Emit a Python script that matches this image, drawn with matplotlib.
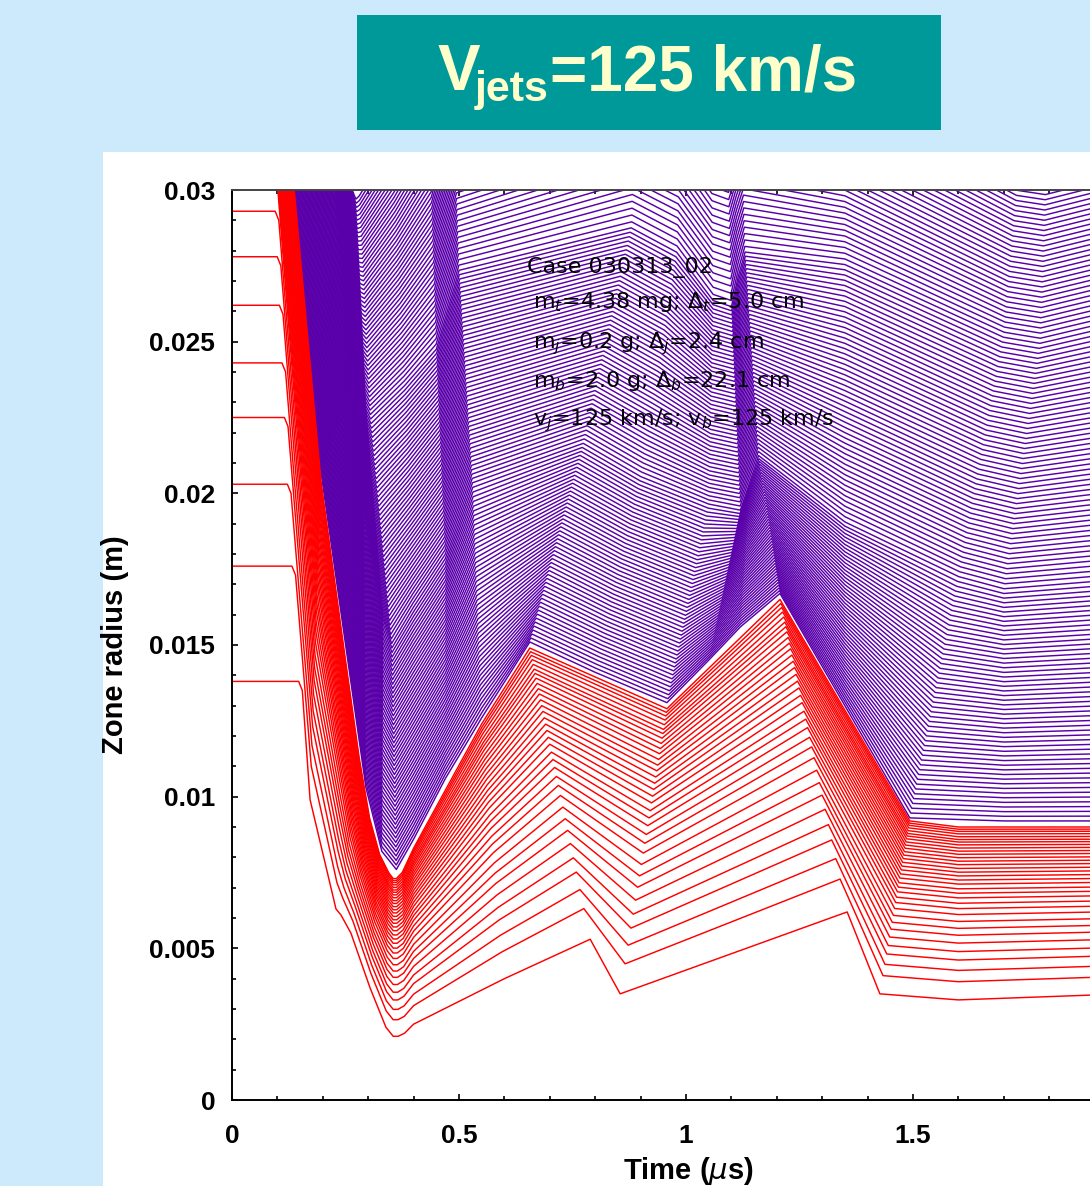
import numpy as np
import matplotlib
matplotlib.use('Agg')
import matplotlib.pyplot as plt
from matplotlib.patches import Rectangle
from matplotlib.ticker import MultipleLocator

# ---------------- text / axes data ----------------
TITLE_MAIN = "V"
TITLE_SUB = "jets"
TITLE_REST = "=125 km/s"
X_LABEL = r"Time ($\mu$s)"
Y_LABEL = "Zone radius (m)"
X_MAJOR = [0, 0.5, 1, 1.5]
X_TICKLABELS = ["0", "0.5", "1", "1.5"]
Y_MAJOR = [0, 0.005, 0.01, 0.015, 0.02, 0.025, 0.03]
Y_TICKLABELS = ["0", "0.005", "0.01", "0.015", "0.02", "0.025", "0.03"]
NOTE_LINES = [
    "Case 030313_02",
    r"m$_t$=4.38 mg; $\Delta_t$=5.0 cm",
    r"m$_j$=0.2 g; $\Delta_j$=2.4 cm",
    r"m$_b$=2.0 g; $\Delta_b$=22.1 cm",
    r"v$_j$=125 km/s; v$_b$=125 km/s",
]

# ---------------- red zones (target + liner) ----------------
TARGET_R0 = [0.0138, 0.0176, 0.0203, 0.0225, 0.0243, 0.0262, 0.0278, 0.0293]
FRONT_T = [0.101, 0.130, 0.150, 0.172]
FRONT_R = [0.0300, 0.0203, 0.0149, 0.0099]
LINER_TOP_T = [0.101, 0.137]
RED_END_MM = [3.49, 4.07, 4.43, 4.76, 5.03, 5.30, 5.55, 5.77, 5.99, 6.21, 6.40,
              6.57, 6.74, 6.89, 7.03, 7.18, 7.31, 7.44, 7.56, 7.68, 7.80, 7.91,
              8.02, 8.13, 8.23, 8.33, 8.43, 8.52, 8.60, 8.69, 8.78, 8.86, 8.93,
              9.00]
RED_IN_T = [0.172, 0.229, 0.240, 0.262, 0.304, 0.339, 0.355, 0.366, 0.380,
            0.400, 0.600, 0.789, 0.855, 1.355, 1.427, 1.600, 1.950]
RED_IN_R = [0.0099, 0.0063, 0.0061, 0.0055, 0.0037, 0.0024, 0.0021, 0.0021,
            0.0022, 0.0025, 0.0040, 0.0053, 0.0035, 0.0062, 0.0035, 0.0033,
            0.00349]
RED_OUT_T = [0.196, 0.250, 0.280, 0.303, 0.325, 0.345, 0.355, 0.362, 0.375,
             0.400, 0.550, 0.656, 0.958, 1.207, 1.493, 1.600, 1.950]
RED_OUT_R = [0.0204, 0.0145, 0.0113, 0.0093, 0.0081, 0.0075, 0.0073, 0.0073,
             0.0075, 0.0083, 0.0124, 0.0149, 0.0129, 0.0165, 0.0092, 0.0090,
             0.0090]

# ---------------- purple zones (jets) ----------------
N_PURPLE = 150
# four reference trajectories, inner -> outer (same knot structure)
P0_T = [0.060, 0.137, 0.196, 0.295, 0.330, 0.362, 0.400, 0.470, 0.550, 0.656,
        0.800, 0.958, 1.050, 1.120, 1.207, 1.350, 1.493, 1.700, 1.950]
P0_R = [0.0450, 0.0301, 0.0207, 0.0103, 0.0082, 0.0076, 0.0086, 0.0106, 0.0126,
        0.0151, 0.0141, 0.0131, 0.0145, 0.0156, 0.0167, 0.0130, 0.0093, 0.0092,
        0.0092]
P1_T = [0.170, 0.229, 0.262, 0.290, 0.333, 0.352, 0.400, 0.470, 0.530, 0.773,
        0.900, 1.050, 1.120, 1.140, 1.160, 1.350, 1.600, 1.700, 1.950]
P1_R = [0.0450, 0.0300, 0.0235, 0.0195, 0.0158, 0.0150, 0.0162, 0.0178, 0.0203,
        0.0216, 0.0205, 0.0196, 0.0194, 0.0203, 0.0212, 0.0190, 0.0172, 0.0168,
        0.0171]
P2_T = [0.190, 0.243, 0.262, 0.282, 0.295, 0.305, 0.380, 0.450, 0.500, 0.880,
        0.980, 1.060, 1.100, 1.115, 1.130, 1.350, 1.700, 1.780, 1.950]
P2_R = [0.0450, 0.0300, 0.0265, 0.0238, 0.0228, 0.0225, 0.0236, 0.0248, 0.0274,
        0.0288, 0.0280, 0.0264, 0.0262, 0.0272, 0.0280, 0.0276, 0.0252, 0.0250,
        0.0256]
P3_T = [0.200, 0.255, 0.265, 0.270, 0.273, 0.280, 0.350, 0.430, 0.480, 0.900,
        1.000, 1.050, 1.080, 1.095, 1.110, 1.350, 1.750, 1.800, 1.950]
P3_R = [0.0450, 0.0305, 0.0300, 0.0298, 0.0297, 0.0298, 0.0315, 0.0337, 0.0365,
        0.0400, 0.0395, 0.0382, 0.0380, 0.0382, 0.0385, 0.0370, 0.0335, 0.0334,
        0.0340]

# ---------------- style ----------------
W, H = 1090, 1186
BG = '#cceafc'
TEAL = '#009999'
TITLE_C = '#ffffcc'
RED = '#ff0000'
PURPLE = '#5a00aa'
TICK_FONT = 'Liberation Sans'
LW = 1.05


def blend(a, b, u):
    return (1 - u) * np.asarray(a, float) + u * np.asarray(b, float)


fig = plt.figure(figsize=(W / 100, H / 100), dpi=100)
fig.patch.set_facecolor(BG)
fig.add_artist(Rectangle((103 / W, 0), (W - 103) / W, (H - 152) / H,
                         transform=fig.transFigure, facecolor='white',
                         edgecolor='none', zorder=0))
fig.add_artist(Rectangle((357 / W, 1 - 130 / H), 584 / W, 115 / H,
                         transform=fig.transFigure, facecolor=TEAL,
                         edgecolor='none', zorder=0))

ax = fig.add_axes([232 / W, 86 / H, 908 / W, 910 / H])
ax.set_xlim(0, 2)
ax.set_ylim(0, 0.03)
ax.patch.set_alpha(0)

# purple zones
P_T = [P0_T, P1_T, P2_T, P3_T]
P_R = [P0_R, P1_R, P2_R, P3_R]
nseg = len(P_T) - 1
for i in range(N_PURPLE):
    u = i / (N_PURPLE - 1) * nseg
    j = min(int(u), nseg - 1)
    w = u - j
    t = blend(P_T[j], P_T[j + 1], w)
    r = blend(P_R[j], P_R[j + 1], w)
    ax.plot(t, r, color=PURPLE, lw=LW, solid_joinstyle='round')

# red zones
red_end = np.array(RED_END_MM) * 1e-3
u_red = (red_end - red_end[0]) / (red_end[-1] - red_end[0])
n_t = len(TARGET_R0)
n_red = len(red_end)
for k, u in enumerate(u_red):
    kt = blend(RED_IN_T, RED_OUT_T, u)
    kr = blend(RED_IN_R, RED_OUT_R, u)
    kr[-1] = red_end[k]
    if k < n_t:
        r0 = TARGET_R0[k]
        ts = np.interp(r0, FRONT_R[::-1], FRONT_T[::-1])
        t = np.concatenate([[0.0, ts - 0.008, ts], kt])
        r = np.concatenate([[r0, r0, r0 - 0.0003], kr])
    else:
        v = (k - n_t) / (n_red - 1 - n_t)
        tc = LINER_TOP_T[0] + v * (LINER_TOP_T[1] - LINER_TOP_T[0])
        t = np.concatenate([[tc - 0.02, tc], kt])
        r = np.concatenate([[0.036, 0.030], kr])
    ax.plot(t, r, color=RED, lw=LW, solid_joinstyle='round')

# axes styling
for side in ['left', 'bottom', 'top', 'right']:
    ax.spines[side].set_linewidth(1.4)
    ax.spines[side].set_color('black')
ax.spines['top'].set_color('#444444')
ax.set_xticks(X_MAJOR)
ax.set_xticklabels(X_TICKLABELS)
ax.set_yticks(Y_MAJOR)
ax.set_yticklabels(Y_TICKLABELS)
ax.xaxis.set_minor_locator(MultipleLocator(0.1))
ax.yaxis.set_minor_locator(MultipleLocator(0.001))
ax.tick_params(which='both', direction='in', top=True, right=True, width=1.2)
ax.tick_params(which='major', length=4.5)
ax.tick_params(which='minor', length=3)
ax.tick_params(axis='y', pad=12)
ax.tick_params(axis='x', pad=17)
for lab in ax.get_xticklabels() + ax.get_yticklabels():
    lab.set_fontfamily(TICK_FONT)
    lab.set_fontweight('bold')
    lab.set_fontsize(19)

ax.set_xlabel(X_LABEL, fontfamily=TICK_FONT, fontweight='bold', fontsize=21)
ax.xaxis.set_label_coords(0.5025, -0.060)
ax.set_ylabel(Y_LABEL, fontfamily=TICK_FONT, fontweight='bold', fontsize=21)
ax.yaxis.set_label_coords(-0.113, 0.5)

# notes
note_y = [273, 308, 348, 387, 425]
note_x = [527, 533, 533, 533, 533]
for s, x, y in zip(NOTE_LINES, note_x, note_y):
    fig.text(x / W, 1 - y / H, s, fontsize=16, family='DejaVu Sans',
             color='black', va='baseline', ha='left', zorder=10)

# title built from three pieces
fig.canvas.draw()
rend = fig.canvas.get_renderer()
t1 = fig.text(438 / W, 1 - 90 / H, TITLE_MAIN, fontsize=46, family=TICK_FONT,
              fontweight='bold', color=TITLE_C, va='baseline', ha='left')
bb = t1.get_window_extent(rend)
t2 = fig.text((bb.x1 - 6) / W, 1 - 101 / H, TITLE_SUB, fontsize=31,
              family=TICK_FONT, fontweight='bold', color=TITLE_C,
              va='baseline', ha='left')
bb2 = t2.get_window_extent(rend)
fig.text((bb2.x1 + 2) / W, 1 - 90 / H, TITLE_REST, fontsize=46,
         family=TICK_FONT, fontweight='bold', color=TITLE_C,
         va='baseline', ha='left')

fig.savefig('out.png', dpi=100, facecolor=BG)
